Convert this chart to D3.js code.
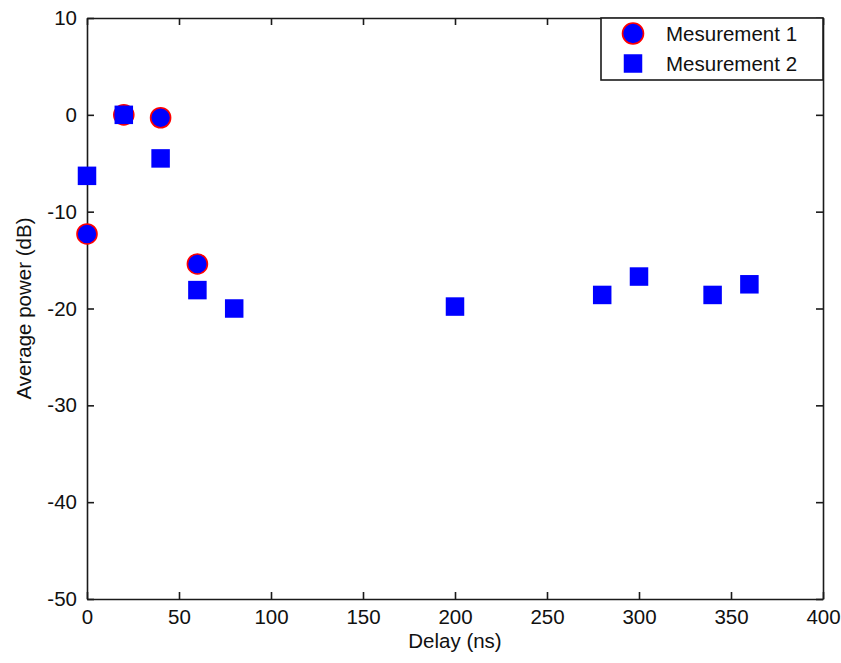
<!DOCTYPE html>
<html>
<head>
<meta charset="utf-8">
<script src="https://cdn.jsdelivr.net/npm/d3@7"></script>
<style>
  html, body { margin: 0; padding: 0; background: #ffffff; }
  svg { display: block; }
  text { font-family: "Liberation Sans", Arial, sans-serif; fill: #111; }
</style>
</head>
<body>
<svg id="chart" width="841" height="663"></svg>
<script>
// Measurement 1: delay (ns) and average power (dB)
const m1Delay = [0, 20, 40, 60];
const m1Power = [-12.3, 0, -0.3, -15.4];

// Measurement 2: delay (ns) and average power (dB)
const m2Delay = [0, 20, 40, 60, 80, 200, 280, 300, 340, 360];
const m2Power = [-6.3, 0, -4.5, -18.1, -20.0, -19.8, -18.6, -16.7, -18.6, -17.5];

const xTicks = [0, 50, 100, 150, 200, 250, 300, 350, 400];
const yTicks = [10, 0, -10, -20, -30, -40, -50];
const seriesNames = ["Mesurement 1", "Mesurement 2"];

const svg = d3.select("#chart");
const plotL = 87, plotR = 823, plotT = 18, plotB = 599;
const fontSize = 20.5;

const x = d3.scaleLinear().domain([0, 400]).range([plotL, plotR]);
const y = d3.scaleLinear().domain([-50, 10]).range([plotB, plotT]);

const axisColor = "#1a1a1a";
const plainNum = d => String(d); // ASCII hyphen for negatives

// Axes with inward ticks on all four sides
const gx = svg.append("g").attr("transform", `translate(0,${plotB})`)
  .call(d3.axisBottom(x).tickValues(xTicks).tickFormat(plainNum).tickSizeInner(-7).tickSizeOuter(0).tickPadding(10));
const gxTop = svg.append("g").attr("transform", `translate(0,${plotT})`)
  .call(d3.axisTop(x).tickValues(xTicks).tickSizeInner(-7).tickSizeOuter(0).tickFormat(""));
const gy = svg.append("g").attr("transform", `translate(${plotL},0)`)
  .call(d3.axisLeft(y).tickValues(yTicks).tickFormat(plainNum).tickSizeInner(-7).tickSizeOuter(0).tickPadding(10));
const gyRight = svg.append("g").attr("transform", `translate(${plotR},0)`)
  .call(d3.axisRight(y).tickValues(yTicks).tickSizeInner(-7).tickSizeOuter(0).tickFormat(""));

[gx, gxTop, gy, gyRight].forEach(g => {
  g.select(".domain").attr("stroke", axisColor).attr("stroke-width", 1.6);
  g.selectAll(".tick line").attr("stroke", axisColor).attr("stroke-width", 1.6);
  g.selectAll(".tick text").attr("font-size", fontSize).attr("fill", "#111")
    .style("font-family", "'Liberation Sans', Arial, sans-serif");
});

// Axis titles
svg.append("text")
  .attr("x", (plotL + plotR) / 2).attr("y", 648)
  .attr("text-anchor", "middle").attr("font-size", fontSize)
  .text("Delay (ns)");
svg.append("text")
  .attr("transform", `translate(31,${(plotT + plotB) / 2}) rotate(-90)`)
  .attr("text-anchor", "middle").attr("font-size", fontSize)
  .text("Average power (dB)");

// Measurement 1: blue circles with red edge
const circR = 10;
svg.append("g").selectAll("circle")
  .data(m1Delay.map((d, i) => [d, m1Power[i]]))
  .join("circle")
  .attr("cx", d => x(d[0])).attr("cy", d => y(d[1]))
  .attr("r", circR)
  .attr("fill", "#0000ff").attr("stroke", "#ff0000").attr("stroke-width", 1.6);

// Measurement 2: blue squares
const sq = 18.5;
svg.append("g").selectAll("rect")
  .data(m2Delay.map((d, i) => [d, m2Power[i]]))
  .join("rect")
  .attr("x", d => x(d[0]) - sq / 2).attr("y", d => y(d[1]) - sq / 2)
  .attr("width", sq).attr("height", sq)
  .attr("fill", "#0000ff");

// Legend
const lg = svg.append("g");
lg.append("rect")
  .attr("x", 601).attr("y", plotT).attr("width", plotR - 601).attr("height", 62)
  .attr("fill", "#fff").attr("stroke", axisColor).attr("stroke-width", 1.6);
lg.append("circle")
  .attr("cx", 633).attr("cy", 33.5).attr("r", circR + 0.5)
  .attr("fill", "#0000ff").attr("stroke", "#ff0000").attr("stroke-width", 1.6);
lg.append("rect")
  .attr("x", 633 - sq / 2).attr("y", 63.5 - sq / 2).attr("width", sq).attr("height", sq)
  .attr("fill", "#0000ff");
lg.selectAll("text.lbl")
  .data(seriesNames)
  .join("text")
  .attr("class", "lbl")
  .attr("x", 666).attr("y", (d, i) => 41 + i * 30)
  .attr("font-size", fontSize)
  .text(d => d);
</script>
</body>
</html>
